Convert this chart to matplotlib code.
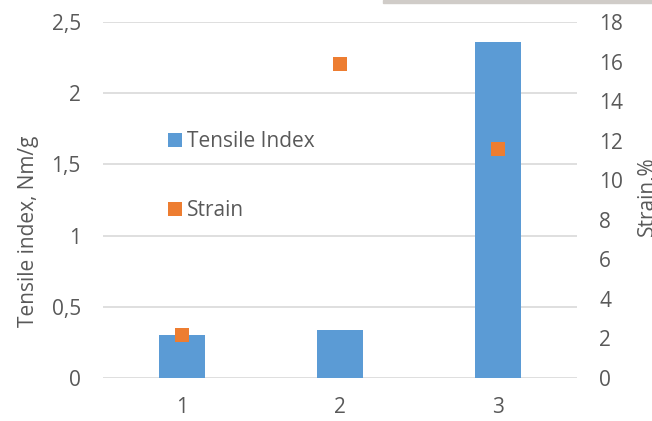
import matplotlib
matplotlib.use("Agg")
import matplotlib.pyplot as plt
from matplotlib.ticker import FuncFormatter, MultipleLocator
from matplotlib.lines import Line2D
from matplotlib.patches import Rectangle

# Data
samples = ["1", "2", "3"]
tensile_index = [0.30, 0.34, 2.36]   # Nm/g
strain = [2.15, 15.9, 11.6]          # %

BLUE = "#5B9BD5"
ORANGE = "#ED7D31"
TEXT = "#595959"
GRID = "#D9D9D9"
FS = 15

plt.rcParams["font.family"] = ["Open Sans", "DejaVu Sans"]

fig = plt.figure(figsize=(6.52, 4.21), dpi=100)
ax = fig.add_axes([103 / 652, 1 - 378 / 421, 474 / 652, 356 / 421])
ax2 = ax.twinx()

x = list(range(len(samples)))
ax.bar(x, tensile_index, width=0.285, color=BLUE, zorder=2)
ax2.plot(x, strain, linestyle="none", marker="s", markersize=10,
         color=ORANGE, markeredgewidth=0, zorder=3)

ax.set_xlim(-0.5, 2.5)
ax.set_ylim(0, 2.5)
ax2.set_ylim(0, 18)
ax.yaxis.set_major_locator(MultipleLocator(0.5))
ax2.yaxis.set_major_locator(MultipleLocator(2))
ax.yaxis.set_major_formatter(FuncFormatter(lambda v, p: f"{v:g}".replace(".", ",")))

ax.set_xticks(x)
ax.set_xticklabels(samples)

ax.grid(axis="y", color=GRID, linewidth=1.2, zorder=0)
ax.set_axisbelow(True)
for a in (ax, ax2):
    for s in a.spines.values():
        s.set_visible(False)
    a.tick_params(length=0, labelsize=FS, labelcolor=TEXT)
ax.tick_params(axis="y", pad=16)
ax.tick_params(axis="x", pad=14)
ax2.tick_params(axis="y", pad=16)

ax.set_ylabel("Tensile index, Nm/g", fontsize=FS, color=TEXT)
ax.yaxis.set_label_coords(-0.136, 0.413)
ax2.set_ylabel("Strain,%", fontsize=FS, color=TEXT)
ax2.yaxis.set_label_coords(1.127, 0.511)

handles = [
    Line2D([], [], linestyle="none", marker="s", markersize=9.5,
           color=BLUE, markeredgewidth=0),
    Line2D([], [], linestyle="none", marker="s", markersize=9.5,
           color=ORANGE, markeredgewidth=0),
]
leg = ax2.legend(handles, ["Tensile Index", "Strain"], loc="upper left",
                 bbox_to_anchor=(158 / 652, 1 - 123 / 421),
                 bbox_transform=fig.transFigure, frameon=False,
                 fontsize=FS, labelspacing=2.3, handlelength=0.8,
                 handletextpad=0.2, borderaxespad=0)
for t in leg.get_texts():
    t.set_color(TEXT)

# thin grey strip along the top edge
fig.patches.append(Rectangle((383 / 652, 1 - 3 / 421), 1 - 383 / 652, 3 / 421,
                             transform=fig.transFigure, color="#D0CCC8",
                             zorder=0))

fig.savefig("out.png", dpi=100)
